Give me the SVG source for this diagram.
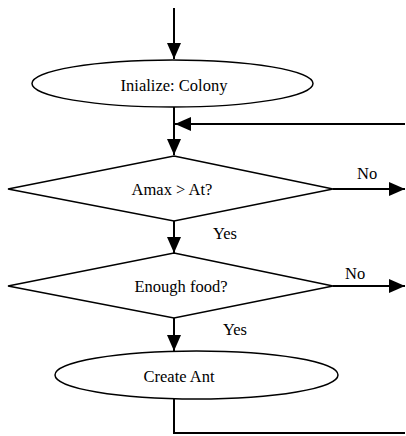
<svg xmlns="http://www.w3.org/2000/svg" width="406" height="436" viewBox="0 0 406 436">
<style>
.s{fill:#fff;stroke:#000;stroke-width:1.5}
.c{fill:none;stroke:#000;stroke-width:2}
</style>
<defs>
<marker id="a" viewBox="0 0 16 14" refX="16" refY="7" markerWidth="16" markerHeight="14" markerUnits="userSpaceOnUse" orient="auto">
<path d="M0,0 L16,7 L0,14 Z" fill="#000"/>
</marker>
</defs>
<g id="connectors">
<line class="c" x1="174" y1="8" x2="174" y2="59" marker-end="url(#a)"/>
<line class="c" x1="174" y1="107" x2="174" y2="155" marker-end="url(#a)"/>
<line class="c" x1="405" y1="124" x2="175" y2="124" marker-end="url(#a)"/>
<line class="c" x1="333" y1="189" x2="405" y2="189" marker-end="url(#a)"/>
<line class="c" x1="174" y1="221" x2="174" y2="253" marker-end="url(#a)"/>
<line class="c" x1="333" y1="286" x2="405" y2="286" marker-end="url(#a)"/>
<line class="c" x1="174" y1="318" x2="174" y2="351" marker-end="url(#a)"/>
<polyline class="c" points="174,396 174,433 405,433"/>
</g>
<g font-family="Liberation Serif, serif" font-size="16.5" fill="#000">
<g id="init">
<ellipse class="s" cx="172.5" cy="83.5" rx="140.5" ry="23.5"/>
<text x="174" y="90.5" text-anchor="middle">Inialize: Colony</text>
</g>
<g id="amax">
<polygon class="s" points="174,156 333,189 174,221 8,189"/>
<text x="172" y="195" text-anchor="middle">Amax &gt; At?</text>
</g>
<g id="food">
<polygon class="s" points="174,253 333,286 174,318 8,286"/>
<text x="181" y="292" text-anchor="middle">Enough food?</text>
</g>
<g id="create">
<ellipse class="s" cx="196.5" cy="375" rx="141.5" ry="24"/>
<text x="179" y="382" text-anchor="middle">Create Ant</text>
</g>
<g id="labels">
<text x="357" y="179">No</text>
<text x="213" y="239">Yes</text>
<text x="345" y="279">No</text>
<text x="223" y="335">Yes</text>
</g>
</g>
</svg>
